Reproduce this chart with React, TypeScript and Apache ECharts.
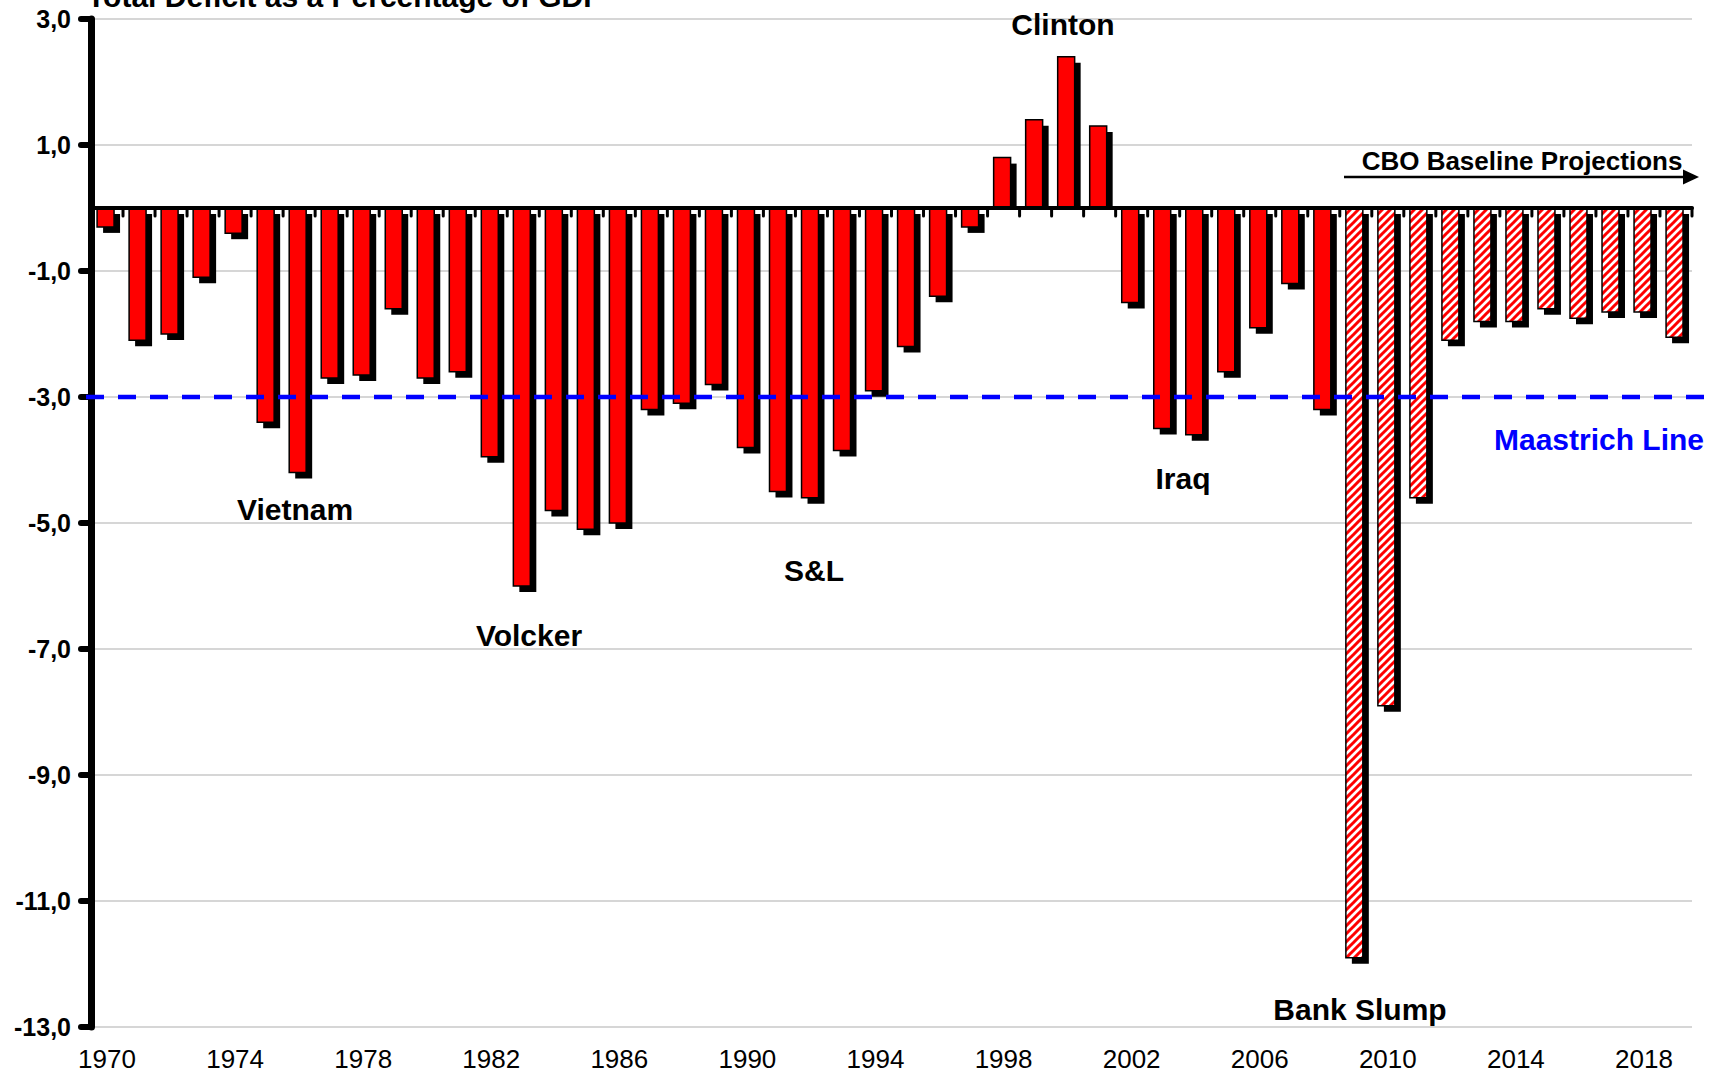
import React, { useEffect, useRef } from "react";
import * as echarts from "echarts";

const years = [
  "1970", "1971", "1972", "1973", "1974", "1975", "1976", "1977", "1978", "1979",
  "1980", "1981", "1982", "1983", "1984", "1985", "1986", "1987", "1988", "1989",
  "1990", "1991", "1992", "1993", "1994", "1995", "1996", "1997", "1998", "1999",
  "2000", "2001", "2002", "2003", "2004", "2005", "2006", "2007", "2008", "2009",
  "2010", "2011", "2012", "2013", "2014", "2015", "2016", "2017", "2018", "2019",
];

const deficits = [
  -0.3, -2.1, -2.0, -1.1, -0.4, -3.4, -4.2, -2.7, -2.65, -1.6,
  -2.7, -2.6, -3.95, -6.0, -4.8, -5.1, -5.0, -3.2, -3.1, -2.8,
  -3.8, -4.5, -4.6, -3.85, -2.9, -2.2, -1.4, -0.3, 0.8, 1.4,
  2.4, 1.3, -1.5, -3.5, -3.6, -2.6, -1.9, -1.2, -3.2, -11.9,
  -7.9, -4.6, -2.1, -1.8, -1.8, -1.6, -1.75, -1.65, -1.65, -2.05,
];

const projectionStart = "2009";
const maastrichtLevel = -3;
const yMin = -13;
const yMax = 3;
const yStep = 2;

const titleText = "Total Deficit as a Percentage of GDP";
const annotations = [
  { text: "Clinton", x: 1063, y: 24 },
  { text: "Vietnam", x: 295, y: 509 },
  { text: "Volcker", x: 529, y: 635 },
  { text: "S&L", x: 814, y: 570 },
  { text: "Iraq", x: 1183, y: 478 },
  { text: "Bank Slump", x: 1360, y: 1009 },
];

const W = 1710;
const H = 1077;
const GRID_LEFT = 91;
const GRID_RIGHT = 18;
const GRID_TOP = 19;
const GRID_BOTTOM = 50;
const FONT = "'Liberation Sans', Arial, Helvetica, sans-serif";

export default function App() {
  const ref = useRef<HTMLDivElement>(null);

  useEffect(() => {
    if (!ref.current) return;
    const chart = echarts.init(ref.current, null, { renderer: "svg", width: W, height: H });

    const hatchSvg =
      "<svg xmlns='http://www.w3.org/2000/svg' width='8' height='8'>" +
      "<rect width='8' height='8' fill='white'/>" +
      "<path d='M-1,9 L9,-1 M-1,1 L1,-1 M7,9 L9,7' stroke='#ff0000' stroke-width='3'/>" +
      "</svg>";
    const hatch = {
      image: "data:image/svg+xml;charset=utf-8," + encodeURIComponent(hatchSvg),
      repeat: "repeat",
      imageWidth: 8,
      imageHeight: 8,
    };
    const projIdx = years.indexOf(projectionStart);

    chart.setOption({
      animation: false,
      backgroundColor: "#ffffff",
      grid: { left: GRID_LEFT, right: GRID_RIGHT, top: GRID_TOP, bottom: GRID_BOTTOM, containLabel: false },
      xAxis: {
        type: "category",
        data: years,
        boundaryGap: true,
        axisLine: { show: false, onZero: false },
        axisTick: { show: false },
        splitLine: { show: false },
        axisLabel: {
          interval: 3,
          margin: 19,
          fontSize: 26,
          lineHeight: 26,
          fontFamily: FONT,
          color: "#000",
        },
      },
      yAxis: {
        type: "value",
        min: yMin,
        max: yMax,
        interval: yStep,
        axisLine: { show: true, onZero: false, lineStyle: { color: "#000", width: 7, cap: "round" } },
        axisTick: { show: true, length: 10, lineStyle: { color: "#000", width: 6, cap: "round" } },
        axisLabel: {
          margin: 20,
          fontSize: 25,
          fontWeight: "bold",
          fontFamily: FONT,
          color: "#000",
          formatter: (v: number) => v.toFixed(1).replace(".", ","),
        },
        splitLine: { show: true, lineStyle: { color: "#c8c8c8", width: 1.5 } },
      },
      series: [
        {
          type: "custom",
          clip: false,
          z: 2,
          data: deficits.map((v, i) => [i, v]),
          encode: { x: 0, y: 1 },
          renderItem: (params: any, api: any) => {
            const i = api.value(0);
            const v = api.value(1);
            const p0 = api.coord([i, 0]);
            const p1 = api.coord([i, v]);
            const catW = api.size([1, 0])[0];
            const catLeft = p0[0] - catW / 2;
            const left = catLeft + catW * 0.19;
            const barW = catW * 0.53;
            const top = Math.min(p0[1], p1[1]);
            const h = Math.abs(p1[1] - p0[1]);
            const projected = i >= projIdx;
            const children: any[] = [
              {
                type: "rect",
                shape: { x: left + 6, y: top + 6, width: barW, height: v >= 0 ? h - 6 : h },
                style: { fill: "#000" },
              },
              {
                type: "rect",
                shape: { x: left, y: top, width: barW, height: h },
                style: { fill: projected ? hatch : "#ff0000", stroke: "#000", lineWidth: 1.5 },
              },
              {
                type: "line",
                shape: { x1: catLeft, y1: p0[1], x2: catLeft, y2: p0[1] + 8 },
                style: { stroke: "#000", lineWidth: 3, lineCap: "round" },
              },
            ];
            if (i === years.length - 1) {
              children.push({
                type: "line",
                shape: { x1: catLeft + catW, y1: p0[1], x2: catLeft + catW, y2: p0[1] + 8 },
                style: { stroke: "#000", lineWidth: 3, lineCap: "round" },
              });
            }
            return { type: "group", children };
          },
        },
      ],
    });

    const y0 = chart.convertToPixel({ yAxisIndex: 0 }, 0) as number;
    const yM = chart.convertToPixel({ yAxisIndex: 0 }, maastrichtLevel) as number;
    const xL = GRID_LEFT;
    const xR = W - GRID_RIGHT;

    const annoGraphics = annotations.map((a) => ({
      type: "text",
      x: a.x,
      y: a.y,
      z: 20,
      style: {
        text: a.text,
        fill: "#000",
        font: `bold 30px ${FONT}`,
        align: "center",
        verticalAlign: "middle",
      },
    }));

    chart.setOption({
      graphic: [
        {
          type: "line",
          z: 15,
          shape: { x1: xL, y1: y0, x2: xR, y2: y0 },
          style: { stroke: "#000", lineWidth: 4, lineCap: "round" },
        },
        {
          type: "line",
          z: 16,
          shape: { x1: 86, y1: yM, x2: 1706, y2: yM },
          style: { stroke: "#0000ff", lineWidth: 4.5, lineDash: [18, 14] },
        },
        {
          type: "text",
          x: 87,
          y: -4,
          z: 20,
          style: { text: titleText, fill: "#000", font: `bold 30px ${FONT}`, align: "left", verticalAlign: "middle" },
        },
        {
          type: "text",
          x: 1599,
          y: 439,
          z: 20,
          style: { text: "Maastrich Line", fill: "#0000ff", font: `bold 30px ${FONT}`, align: "center", verticalAlign: "middle" },
        },
        {
          type: "text",
          x: 1522,
          y: 161,
          z: 20,
          style: { text: "CBO Baseline Projections", fill: "#000", font: `bold 26px ${FONT}`, align: "center", verticalAlign: "middle" },
        },
        {
          type: "line",
          z: 20,
          shape: { x1: 1344, y1: 177, x2: 1686, y2: 177 },
          style: { stroke: "#000", lineWidth: 2.5 },
        },
        {
          type: "polygon",
          z: 20,
          shape: { points: [[1683, 169.5], [1699, 177], [1683, 184.5]] },
          style: { fill: "#000" },
        },
        ...annoGraphics,
      ],
    });

    return () => chart.dispose();
  }, []);

  return <div ref={ref} style={{ position: "fixed", left: 0, top: 0, width: W, height: H }} />;
}
